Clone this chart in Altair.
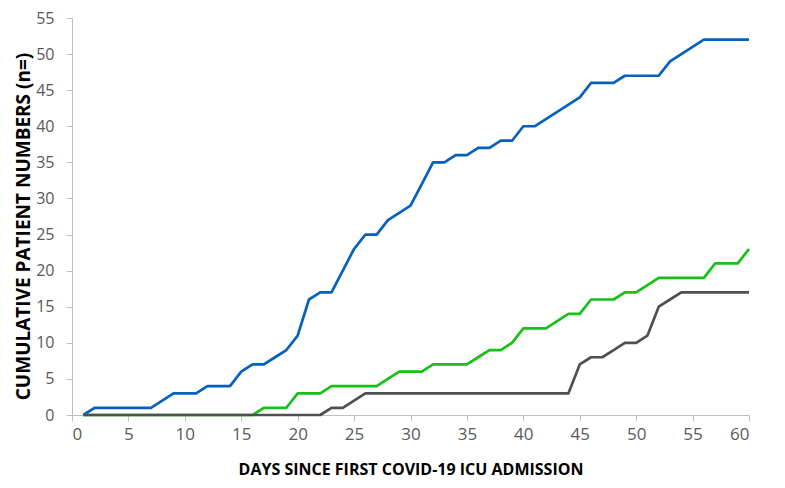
import altair as alt
import pandas as pd

days = list(range(1, 61))
blue_vals = [0, 1, 1, 1, 1, 1, 1, 2, 3, 3, 3, 4, 4, 4, 6, 7, 7, 8, 9, 11,
             16, 17, 17, 20, 23, 25, 25, 27, 28, 29, 32, 35, 35, 36, 36, 37, 37, 38, 38, 40,
             40, 41, 42, 43, 44, 46, 46, 46, 47, 47, 47, 47, 49, 50, 51, 52, 52, 52, 52, 52]
green_vals = [0, 0, 0, 0, 0, 0, 0, 0, 0, 0, 0, 0, 0, 0, 0, 0, 1, 1, 1, 3,
              3, 3, 4, 4, 4, 4, 4, 5, 6, 6, 6, 7, 7, 7, 7, 8, 9, 9, 10, 12,
              12, 12, 13, 14, 14, 16, 16, 16, 17, 17, 18, 19, 19, 19, 19, 19, 21, 21, 21, 23]
gray_vals = [0, 0, 0, 0, 0, 0, 0, 0, 0, 0, 0, 0, 0, 0, 0, 0, 0, 0, 0, 0,
             0, 0, 1, 1, 2, 3, 3, 3, 3, 3, 3, 3, 3, 3, 3, 3, 3, 3, 3, 3,
             3, 3, 3, 3, 7, 8, 8, 9, 10, 10, 11, 15, 16, 17, 17, 17, 17, 17, 17, 17]
x_ticks = list(range(0, 61, 5))
y_ticks = list(range(0, 56, 5))

series = [("blue", blue_vals, "#0561BF"), ("green", green_vals, "#17C017"), ("gray", gray_vals, "#505050")]

FONT = "Open Sans"

x_enc = alt.X("day:Q",
              scale=alt.Scale(domain=[0, 60], nice=False, zero=False),
              axis=alt.Axis(values=x_ticks, title="DAYS SINCE FIRST COVID-19 ICU ADMISSION",
                            grid=False, domainColor="#BFBFBF", tickColor="#BFBFBF", tickSize=6,
                            labelColor="#595959", labelFont=FONT, labelFontSize=17, labelPadding=5,
                            titleFont=FONT, titleFontSize=16, titleFontWeight="bold", titleColor="#000000",
                            titleY=54, titleBaseline="middle"))
y_enc = alt.Y("n:Q",
              scale=alt.Scale(domain=[0, 55], nice=False),
              axis=alt.Axis(values=y_ticks, title="CUMULATIVE PATIENT NUMBERS (n=)",
                            grid=False, domainColor="#BFBFBF", tickColor="#BFBFBF", tickSize=6,
                            labelColor="#595959", labelFont=FONT, labelFontSize=16, labelPadding=12,
                            titleFont=FONT, titleFontSize=19, titleFontWeight="bold", titleColor="#000000",
                            titleX=-49, titleY=208, titleAngle=-90, titleBaseline="middle", titleAlign="center"))

layers = []
for name, vals, col in series:
    df = pd.DataFrame({"day": days, "n": vals})
    layers.append(alt.Chart(df).mark_line(strokeWidth=2.7, color=col, strokeJoin="round").encode(x=x_enc, y=y_enc))

chart = alt.layer(*layers).properties(
    width=677, height=397,
    background="white",
    autosize=alt.AutoSizeParams(type="none"),
    padding={"left": 64, "top": 10, "right": 24, "bottom": 65},
).configure_view(strokeWidth=0, stroke="transparent")

chart.save("out.html", embed_options={"renderer": "svg", "actions": False})
